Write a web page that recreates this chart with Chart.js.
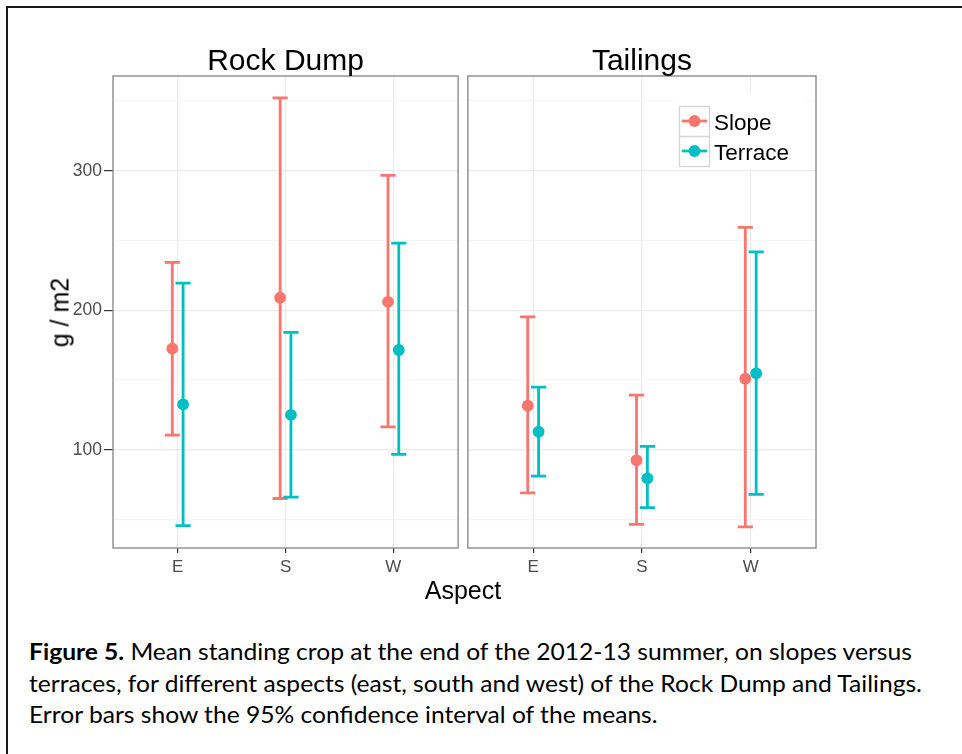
<!DOCTYPE html>
<html>
<head>
<meta charset="utf-8">
<script src="https://cdn.jsdelivr.net/npm/chart.js@4.4.1/dist/chart.umd.min.js"></script>
<style>
  body { margin: 0; background: #fff; }
  #page { position: relative; width: 962px; height: 754px; overflow: hidden; background: #fff; }
  #frame { position: absolute; left: 6px; top: 6px; width: 1000px; height: 800px;
           border-left: 2px solid #1a1a1a; border-top: 2px solid #1a1a1a; }
  canvas { position: absolute; top: 0; }
  .axis-title { position: absolute; font-family: "Liberation Sans", Arial, sans-serif;
                font-size: 25px; line-height: 1; color: #000; width: 200px; height: 25px;
                text-align: center; white-space: nowrap; }
  .caption { position: absolute; left: 29px; font-family: Lato, "Open Sans", sans-serif;
             font-size: 23px; line-height: 1; color: #000; white-space: nowrap;
             transform: scaleX(1.07); transform-origin: 0 0; }
</style>
</head>
<body>
<div id="page">
  <div id="frame"></div>
  <canvas id="rock-dump" width="464" height="600" style="left:0px"></canvas>
  <canvas id="tailings" width="360" height="600" style="left:462px"></canvas>
  <div class="axis-title" style="left:-40.5px; top:299.5px; transform: rotate(-90deg);">g / m2</div>
  <div class="axis-title" style="left:363px; top:578px;">Aspect</div>
  <div class="caption" style="top:640px;"><b>Figure 5.</b> Mean standing crop at the end of the 2012-13 summer, on slopes versus</div>
  <div class="caption" style="top:672px;">terraces, for different aspects (east, south and west) of the Rock Dump and Tailings.</div>
  <div class="caption" style="top:703px;">Error bars show the 95% confidence interval of the means.</div>
</div>

<script>
const aspects = ["E", "S", "W"];

// Rock Dump
const rockSlopeMean = [172.5, 209, 206];
const rockSlopeLow = [110.5, 65, 116.3];
const rockSlopeHigh = [234.3, 352.3, 296.7];
const rockTerraceMean = [132.5, 125, 171.5];
const rockTerraceLow = [45.5, 66, 96.7];
const rockTerraceHigh = [219.5, 184.2, 248.2];

// Tailings
const tailSlopeMean = [131.5, 92.4, 150.9];
const tailSlopeLow = [69, 46.5, 44.6];
const tailSlopeHigh = [195.3, 139.2, 259.4];
const tailTerraceMean = [112.9, 79.5, 154.8];
const tailTerraceLow = [81.1, 58.4, 68];
const tailTerraceHigh = [144.9, 102.4, 241.9];

const yTickValues = [50, 100, 150, 200, 250, 300, 350];
const yTickLabels = ["", "100", "", "200", "", "300", ""];

const SLOPE_COLOR = "#F8766D";
const TERRACE_COLOR = "#00BFC4";
const FONT = "'Liberation Sans', Arial, sans-serif";
const DODGE = 0.05;
const CAP = 0.07;
const POINT_R = 5.9;
const BAR_W = 2.8;

function makeDataset(label, color, means, lows, highs, shift) {
  return {
    label: label,
    data: means.map((m, i) => ({ x: i + 1 + shift, y: m })),
    lows: lows,
    highs: highs,
    backgroundColor: color,
    borderColor: color,
    pointRadius: POINT_R,
    pointHoverRadius: POINT_R,
    pointBorderWidth: 0,
    showLine: false,
  };
}

const isMajor = (v) => v % 100 === 0;

// error bars go under the points
const errorBars = {
  id: "errorBars",
  beforeDatasetsDraw(chart) {
    const { ctx } = chart;
    const x = chart.scales.x;
    const y = chart.scales.y;
    chart.data.datasets.forEach((ds) => {
      ctx.save();
      ctx.strokeStyle = ds.borderColor;
      ctx.lineWidth = BAR_W;
      ds.data.forEach((p, i) => {
        const px = x.getPixelForValue(p.x);
        const left = x.getPixelForValue(p.x - CAP);
        const right = x.getPixelForValue(p.x + CAP);
        const top = y.getPixelForValue(ds.highs[i]);
        const bot = y.getPixelForValue(ds.lows[i]);
        ctx.beginPath();
        ctx.moveTo(px, top);
        ctx.lineTo(px, bot);
        ctx.moveTo(left, top);
        ctx.lineTo(right, top);
        ctx.moveTo(left, bot);
        ctx.lineTo(right, bot);
        ctx.stroke();
      });
      ctx.restore();
    });
  },
};

const panelFrame = {
  id: "panelFrame",
  afterDraw(chart, args, opts) {
    const { ctx, chartArea: a } = chart;
    ctx.save();
    ctx.strokeStyle = "#8c8c8c";
    ctx.lineWidth = 1.4;
    ctx.strokeRect(a.left, a.top, a.right - a.left, a.bottom - a.top);
    ctx.fillStyle = "#000";
    ctx.font = "30px " + FONT;
    ctx.textAlign = "center";
    ctx.textBaseline = "alphabetic";
    ctx.fillText(opts.text, (a.left + a.right) / 2, a.top - 6);
    ctx.restore();
  },
};

// ggplot style legend inside the Tailings panel
const insideLegend = {
  id: "insideLegend",
  afterDraw(chart, args, opts) {
    if (!opts.show) return;
    const { ctx } = chart;
    ctx.save();
    ctx.fillStyle = "#fff";
    ctx.fillRect(211, 92, 133, 78);
    chart.data.datasets.forEach((ds, i) => {
      const ky = 106 + i * 30;
      ctx.strokeStyle = "#d4d4d4";
      ctx.lineWidth = 1.3;
      ctx.strokeRect(217.5, ky + 0.5, 30, 30);
      ctx.strokeStyle = ds.borderColor;
      ctx.lineWidth = BAR_W;
      ctx.beginPath();
      ctx.moveTo(220, ky + 15);
      ctx.lineTo(245, ky + 15);
      ctx.stroke();
      ctx.fillStyle = ds.backgroundColor;
      ctx.beginPath();
      ctx.arc(232.5, ky + 15, POINT_R, 0, Math.PI * 2);
      ctx.fill();
      ctx.fillStyle = "#000";
      ctx.font = "22.5px " + FONT;
      ctx.textAlign = "left";
      ctx.textBaseline = "alphabetic";
      ctx.fillText(ds.label, 252, ky + 24);
    });
    ctx.restore();
  },
};

function makeChart(canvasId, title, datasets, showAxis, padding, legend) {
  const ctx = document.getElementById(canvasId).getContext("2d");
  return new Chart(ctx, {
    type: "scatter",
    data: { datasets: datasets },
    plugins: [errorBars, panelFrame, insideLegend],
    options: {
      responsive: false,
      animation: false,
      devicePixelRatio: 1,
      layout: { padding: padding },
      plugins: {
        legend: { display: false },
        tooltip: { enabled: false },
        panelFrame: { text: title },
        insideLegend: { show: legend },
      },
      scales: {
        x: {
          type: "linear",
          bounds: "data",
          min: 0.4,
          max: 3.6,
          afterBuildTicks: (s) => {
            s.ticks = aspects.map((a, i) => ({ value: i + 1 }));
          },
          afterFit: (s) => {
            s.height = 52;
          },
          border: { display: false },
          grid: { color: "#ebebeb", lineWidth: 1.2, tickLength: 5, tickColor: "#333", tickWidth: 1.2 },
          ticks: {
            autoSkip: false,
            maxRotation: 0,
            padding: 4,
            color: "#4d4d4d",
            font: { family: FONT, size: 17 },
            callback: (v) => aspects[v - 1],
          },
        },
        y: {
          type: "linear",
          bounds: "data",
          min: 29.5,
          max: 368,
          afterBuildTicks: (s) => {
            s.ticks = yTickValues.map((v) => ({ value: v }));
          },
          afterFit: (s) => {
            s.width = showAxis ? 113 : 0;
          },
          border: { display: false },
          grid: {
            color: (c) => (isMajor(c.tick.value) ? "#ebebeb" : "#f5f5f5"),
            lineWidth: 1.2,
            drawTicks: showAxis,
            tickLength: 9,
            tickWidth: 1.2,
            tickColor: (c) => (isMajor(c.tick.value) ? "#333" : "rgba(0,0,0,0)"),
          },
          ticks: {
            display: showAxis,
            padding: 2,
            color: "#4d4d4d",
            font: { family: FONT, size: 17.5 },
            callback: (v, i) => yTickLabels[i],
          },
        },
      },
    },
  });
}

makeChart(
  "rock-dump",
  "Rock Dump",
  [
    makeDataset("Slope", SLOPE_COLOR, rockSlopeMean, rockSlopeLow, rockSlopeHigh, -DODGE),
    makeDataset("Terrace", TERRACE_COLOR, rockTerraceMean, rockTerraceLow, rockTerraceHigh, DODGE),
  ],
  true,
  { left: 0, right: 3, top: 76, bottom: 0 },
  false
);

makeChart(
  "tailings",
  "Tailings",
  [
    makeDataset("Slope", SLOPE_COLOR, tailSlopeMean, tailSlopeLow, tailSlopeHigh, -DODGE),
    makeDataset("Terrace", TERRACE_COLOR, tailTerraceMean, tailTerraceLow, tailTerraceHigh, DODGE),
  ],
  false,
  { left: 5, right: 6, top: 76, bottom: 0 },
  true
);
</script>
</body>
</html>
